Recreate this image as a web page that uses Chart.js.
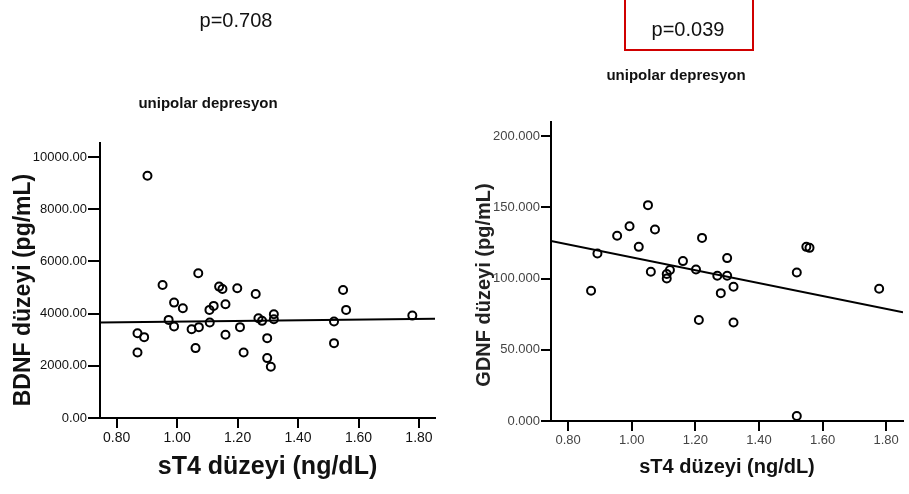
<!DOCTYPE html>
<html>
<head>
<meta charset="utf-8">
<script src="https://cdn.jsdelivr.net/npm/chart.js@4.4.0/dist/chart.umd.min.js"></script>
<style>
    html, body { margin: 0; padding: 0; background: #fff; }
    body { width: 909px; height: 494px; position: relative; overflow: hidden; font-family: 'Liberation Sans', Arial, sans-serif; }
    canvas { position: absolute; top: 0; }
    .ptext { position: absolute; font-size: 20px; line-height: 20px; color: #111; white-space: nowrap; transform: translateX(-50%); }
    .subtitle { position: absolute; font-size: 15px; line-height: 15px; font-weight: bold; color: #111; white-space: nowrap; transform: translateX(-50%); }
    .redbox { position: absolute; left: 624px; top: -4px; width: 126px; height: 51px; border: 2px solid #d00000; }
</style>
</head>
<body>
<canvas id="bdnfChart" width="450" height="494" style="left:0"></canvas>
<canvas id="gdnfChart" width="459" height="494" style="left:450px"></canvas>

<div class="ptext" style="left:236px; top:10px;">p=0.708</div>
<div class="redbox"></div>
<div class="ptext" style="left:688px; top:19px;">p=0.039</div>
<div class="subtitle" style="left:208px; top:95px;">unipolar depresyon</div>
<div class="subtitle" style="left:676px; top:67px;">unipolar depresyon</div>

<script>
// sT4 vs BDNF
const bdnfT4 = [0.902, 0.869, 0.891, 0.869, 0.952, 0.972, 0.990, 0.990, 1.019, 1.048, 1.072, 1.070,
    1.061, 1.108, 1.107, 1.121, 1.139, 1.150, 1.160, 1.160, 1.199, 1.208, 1.220, 1.260,
    1.269, 1.281, 1.298, 1.298, 1.310, 1.320, 1.320, 1.519, 1.519, 1.549, 1.559, 1.778];
const bdnfValues = [9277, 3250, 3097, 2509, 5097, 3759, 4421, 3503, 4206, 3403, 3480, 5545,
    2677, 3656, 4141, 4295, 5033, 4945, 4359, 3186, 4971, 3480, 2509, 4753,
    3824, 3721, 3059, 2294, 1962, 3977, 3786, 3694, 2868, 4906, 4141, 3923];
const bdnfFitX = [0.745, 1.853];
const bdnfFitY = [3660, 3805];

// sT4 vs GDNF
const gdnfT4 = [0.872, 0.892, 0.954, 0.993, 1.022, 1.051, 1.060, 1.073, 1.110, 1.110, 1.120, 1.161,
    1.202, 1.211, 1.221, 1.269, 1.280, 1.300, 1.300, 1.320, 1.320, 1.519, 1.519, 1.549, 1.559, 1.778];
const gdnfValues = [91.5, 117.7, 130.1, 136.8, 122.3, 151.6, 104.8, 134.5, 103.2, 100.1, 106.0, 112.3,
    106.4, 70.9, 128.6, 102.0, 89.8, 114.4, 102.0, 94.3, 69.2, 104.3, 3.5, 122.3, 121.6, 92.9];
const gdnfFitX = [0.746, 1.853];
const gdnfFitY = [126.5, 76.3];

const xTicks = [0.8, 1.0, 1.2, 1.4, 1.6, 1.8];
const bdnfTicks = [0, 2000, 4000, 6000, 8000, 10000];
const gdnfTicks = [0, 50, 100, 150, 200];

Chart.defaults.font.family = "'Liberation Sans', Arial, sans-serif";

// dikey eksen başlığı (döndürülmüş)
const yTitlePlugin = {
    id: 'yTitle',
    afterDraw(chart, args, opts) {
        const ctx = chart.ctx;
        ctx.save();
        ctx.translate(opts.x, opts.y);
        ctx.rotate(-Math.PI / 2);
        ctx.font = opts.font;
        ctx.fillStyle = opts.color;
        ctx.textAlign = 'center';
        ctx.textBaseline = 'alphabetic';
        ctx.fillText(opts.text, 0, 0);
        ctx.restore();
    }
};

function toPoints(xs, ys) {
    return xs.map((x, i) => ({ x: x, y: ys[i] }));
}

function makeScatter(id, o) {
    const ctx = document.getElementById(id).getContext('2d');
    return new Chart(ctx, {
        type: 'scatter',
        data: {
            datasets: [{
                data: toPoints(o.xs, o.ys),
                pointStyle: 'circle',
                pointRadius: 4,
                pointBorderWidth: 2,
                borderColor: '#000',
                backgroundColor: 'rgba(0,0,0,0)',
                clip: false
            }, {
                type: 'line',
                data: toPoints(o.fitX, o.fitY),
                borderColor: '#000',
                borderWidth: 2,
                pointRadius: 0,
                fill: false
            }]
        },
        options: {
            responsive: false,
            animation: false,
            events: [],
            layout: { padding: { top: o.top, right: o.right, left: 0, bottom: 0 } },
            plugins: {
                legend: { display: false },
                tooltip: { enabled: false },
                yTitle: o.yTitle
            },
            scales: {
                x: {
                    type: 'linear',
                    min: o.xMin,
                    max: o.xMax,
                    afterBuildTicks: s => { s.ticks = xTicks.map(v => ({ value: v })); },
                    afterFit: s => { s.height = o.xHeight; },
                    border: { display: true, color: '#000', width: 2 },
                    grid: { drawOnChartArea: false, drawTicks: true, tickLength: 10, color: '#000', lineWidth: 2 },
                    ticks: {
                        font: { size: o.xTickSize },
                        color: o.tickColor,
                        padding: 2,
                        maxRotation: 0,
                        autoSkip: false,
                        callback: v => v.toFixed(2)
                    },
                    title: {
                        display: true,
                        text: 'sT4 düzeyi (ng/dL)',
                        color: '#111',
                        font: { size: o.xTitleSize, weight: 'bold' },
                        padding: { top: 0, bottom: o.xTitlePad }
                    }
                },
                y: {
                    type: 'linear',
                    min: 0,
                    max: o.yMax,
                    afterBuildTicks: s => { s.ticks = o.yTicks.map(v => ({ value: v })); },
                    afterFit: s => { s.width = o.yWidth; },
                    border: { display: true, color: '#000', width: 2 },
                    grid: { drawOnChartArea: false, drawTicks: true, tickLength: o.yTickLen, color: '#000', lineWidth: 2 },
                    ticks: {
                        font: { size: 13 },
                        color: o.tickColor,
                        padding: 1,
                        autoSkip: false,
                        callback: v => v.toFixed(o.decimals)
                    }
                }
            }
        },
        plugins: [yTitlePlugin]
    });
}

makeScatter('bdnfChart', {
    xs: bdnfT4, ys: bdnfValues, fitX: bdnfFitX, fitY: bdnfFitY,
    xMin: 0.745, xMax: 1.853, yMax: 10535, yTicks: bdnfTicks, decimals: 2,
    top: 143, right: 15, xHeight: 76, yWidth: 100, yTickLen: 12,
    xTickSize: 14, tickColor: '#111', xTitleSize: 25, xTitlePad: 12,
    yTitle: { text: 'BDNF düzeyi (pg/mL)', x: 29.5, y: 290, font: "bold 23px 'Liberation Sans', Arial, sans-serif", color: '#111' }
});

makeScatter('gdnfChart', {
    xs: gdnfT4, ys: gdnfValues, fitX: gdnfFitX, fitY: gdnfFitY,
    xMin: 0.746, xMax: 1.853, yMax: 210, yTicks: gdnfTicks, decimals: 3,
    top: 122, right: 3, xHeight: 73, yWidth: 101, yTickLen: 10,
    xTickSize: 13, tickColor: '#444', xTitleSize: 20, xTitlePad: 15,
    yTitle: { text: 'GDNF düzeyi (pg/mL)', x: 39.5, y: 285, font: "bold 20px 'Liberation Sans', Arial, sans-serif", color: '#222' }
});
</script>
</body>
</html>
